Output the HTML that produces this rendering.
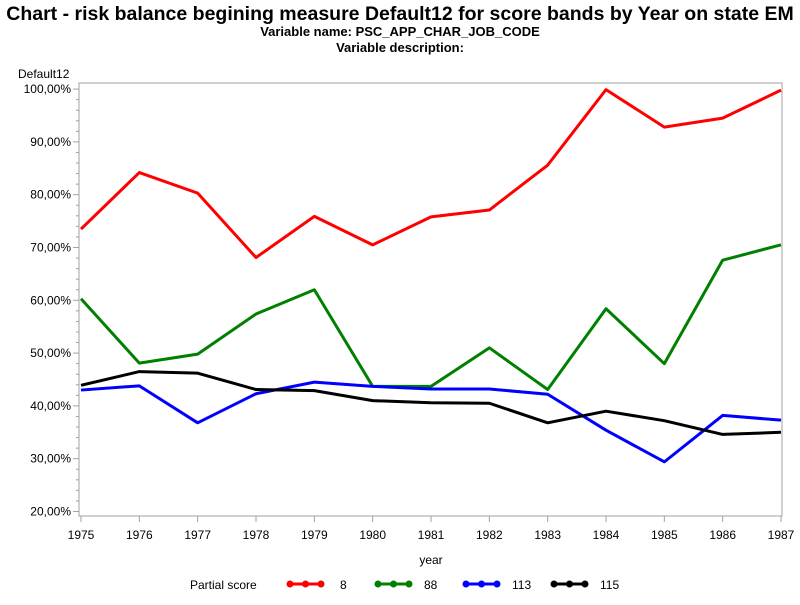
<!DOCTYPE html>
<html><head><meta charset="utf-8"><style>
body{margin:0;background:#fff;}
svg text{font-family:"Liberation Sans",Arial,sans-serif;fill:#000;}
</style></head><body>
<svg id="chart" width="800" height="600">
<text x="400" y="20" text-anchor="middle" font-size="19.5" font-weight="bold">Chart - risk balance begining measure Default12 for score bands by Year on state EM</text>
<text x="400" y="36" text-anchor="middle" font-size="13" font-weight="bold">Variable name: PSC_APP_CHAR_JOB_CODE</text>
<text x="400" y="52" text-anchor="middle" font-size="13" font-weight="bold">Variable description:</text>
<text x="18" y="78" font-size="12">Default12</text>
<rect x="79" y="83" width="703" height="433" fill="none" stroke="#a0a0a0"/>
<g id="axes"></g>
<g id="series"></g>
<text x="431" y="564" text-anchor="middle" font-size="12">year</text>
<g id="legend"></g>
</svg>
<script>
const years=[1975,1976,1977,1978,1979,1980,1981,1982,1983,1984,1985,1986,1987];
const yTicks=[20,30,40,50,60,70,80,90,100];
const seriesNames=["8","88","113","115"];
const seriesColors=["#ff0000","#008000","#0000ff","#000000"];
const s8=[73.5,84.2,80.3,68.1,75.9,70.5,75.8,77.1,85.6,99.9,92.8,94.5,99.8];
const s88=[60.3,48.1,49.8,57.4,62.0,43.7,43.7,51.0,43.1,58.4,48.0,67.6,70.5];
const s113=[43.0,43.8,36.8,42.3,44.5,43.7,43.2,43.2,42.2,35.4,29.4,38.2,37.3];
const s115=[43.9,46.5,46.2,43.1,42.9,41.0,40.6,40.5,36.8,39.0,37.2,34.6,35.0];
const allSeries=[s8,s88,s113,s115];
const NS="http://www.w3.org/2000/svg";
const xS=i=>81+i*(700/(years.length-1));
const yS=v=>511.5-(v-20)*5.28;
function mk(t,a,p){const e=document.createElementNS(NS,t);for(const k in a)e.setAttribute(k,a[k]);p.appendChild(e);return e;}
const ax=document.getElementById('axes');
yTicks.forEach((v,j)=>{
 const y=yS(v);
 const l=mk('line',{x1:73,x2:79,y1:y,y2:y,stroke:'#a0a0a0'},ax);
 
 
 const t=mk('text',{x:71,y:y+4,'text-anchor':'end','font-size':12},ax);
 t.textContent=v.toFixed(2).replace('.',',')+'%';
 
 
 if(j<yTicks.length-1){for(let m=1;m<5;m++){const ym=yS(v+m*2);
  const ml=mk('line',{x1:76,x2:79,y1:ym,y2:ym,stroke:'#a0a0a0'},ax);
  
  }}
});
years.forEach((yr,i)=>{
 const x=xS(i);
 const l=mk('line',{x1:x,x2:x,y1:516,y2:522,stroke:'#a0a0a0'},ax);
 
 
 const t=mk('text',{x:x,y:539,'text-anchor':'middle','font-size':12},ax);
 t.textContent=yr;
 
 
});
const sg=document.getElementById('series');
allSeries.forEach((d,k)=>{
 const p=mk('polyline',{points:d.map((v,i)=>xS(i)+','+yS(v)).join(' '),fill:'none',stroke:seriesColors[k],'stroke-width':3,'stroke-linejoin':'round'},sg);
 
 
});
const lg=document.getElementById('legend');
const lt=mk('text',{x:190,y:589,'font-size':12},lg);
lt.textContent='Partial score';


const lx=[290,378,466,554];
seriesNames.forEach((n,k)=>{
 const g=mk('g',{},lg);
 
 
 mk('line',{x1:lx[k],x2:lx[k]+31,y1:584,y2:584,stroke:seriesColors[k],'stroke-width':3},g);
 [0,15.5,31].forEach(o=>mk('circle',{cx:lx[k]+o,cy:584,r:3.5,fill:seriesColors[k]},g));
 const t=mk('text',{x:lx[k]+ (n.length>1?46:50),y:589,'font-size':12},g);
 t.textContent=n;
});
</script>
</body></html>
